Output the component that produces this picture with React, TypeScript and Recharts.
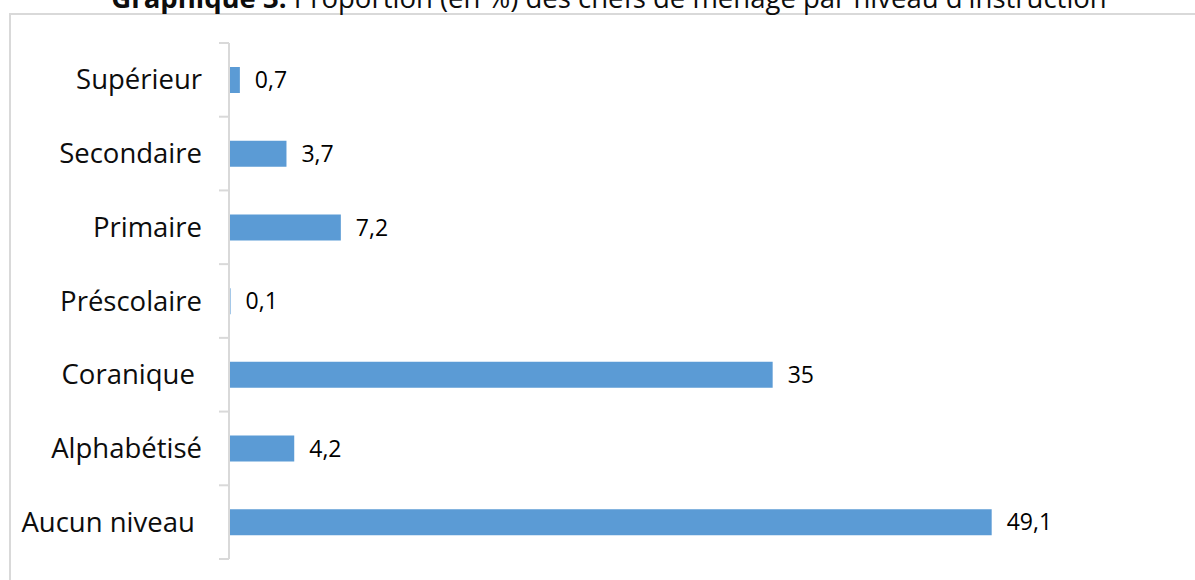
import { Bar, BarChart, LabelList, XAxis, YAxis } from 'recharts'

// Proportion (en %) des chefs de ménage par niveau d'instruction
const categories = [
  'Supérieur',
  'Secondaire',
  'Primaire',
  'Préscolaire',
  'Coranique ',
  'Alphabétisé',
  'Aucun niveau ',
]
const values = [0.7, 3.7, 7.2, 0.1, 35, 4.2, 49.1]
const xDomain: [number, number] = [0, 60]

const W = 1195
const H = 580
const AXIS_W = 229
const MARGIN = { top: 43, right: 34, bottom: 21, left: 0 }
const BAND = (H - MARGIN.top - MARGIN.bottom) / categories.length

const LABEL_FONT = '"Open Sans", "DejaVu Sans", sans-serif'
const BAR_BLUE = '#5B9BD5'
const AXIS_GREY = '#D9D9D9'

const data = categories.map((name, i) => ({ name, value: values[i] }))

const fmt = (v: unknown) => String(v).replace('.', ',')

// Excel-style category tick: label on the left, tick marks on band boundaries
function CategoryTick(props: any) {
  const { y, payload, index } = props
  const top = y - BAND / 2
  const last = index === categories.length - 1
  return (
    <g>
      <line x1={AXIS_W - 10} x2={AXIS_W} y1={top} y2={top} stroke={AXIS_GREY} strokeWidth={2} />
      {last && (
        <line x1={AXIS_W - 10} x2={AXIS_W} y1={top + BAND} y2={top + BAND} stroke={AXIS_GREY} strokeWidth={2} />
      )}
      <text
        x={AXIS_W - 27}
        y={y}
        dy="0.35em"
        textAnchor="end"
        fill="#0d0d0d"
        fontFamily={LABEL_FONT}
        fontSize={27.5}
        style={{ whiteSpace: 'pre' }}
      >
        {payload.value}
      </text>
    </g>
  )
}

export default function App() {
  return (
    <div style={{ position: 'absolute', left: 0, top: 0, width: W, height: H, overflow: 'hidden', background: '#fff' }}>
      <div
        style={{
          position: 'absolute', left: 9, top: 13, width: 1400, height: 800,
          border: `2px solid ${AXIS_GREY}`,
        }}
      />
      <svg width={W} height={30} style={{ position: 'absolute', left: 0, top: 0 }}>
        <text x={609} y={8} textAnchor="middle" fontFamily={LABEL_FONT} fontSize={27.5} fill="#0d0d0d">
          <tspan fontWeight="bold">Graphique 3.</tspan>
          <tspan> Proportion (en %) des chefs de ménage par niveau d'instruction</tspan>
        </text>
      </svg>
      <div style={{ position: 'absolute', left: 0, top: 0 }}>
        <BarChart width={W} height={H} data={data} layout="vertical" margin={MARGIN}>
          <XAxis type="number" domain={xDomain} hide />
          <YAxis
            type="category"
            dataKey="name"
            width={AXIS_W}
            axisLine={{ stroke: AXIS_GREY, strokeWidth: 2 }}
            tickLine={false}
            tickSize={10}
            tickMargin={17}
            interval={0}
            tick={<CategoryTick />}
          />
          <Bar dataKey="value" fill={BAR_BLUE} barSize={26} isAnimationActive={false}>
            <LabelList
              dataKey="value"
              position="right"
              offset={15}
              formatter={fmt}
              fill="#000"
              fontFamily={LABEL_FONT}
              fontSize={23}
            />
          </Bar>
        </BarChart>
      </div>
    </div>
  )
}
